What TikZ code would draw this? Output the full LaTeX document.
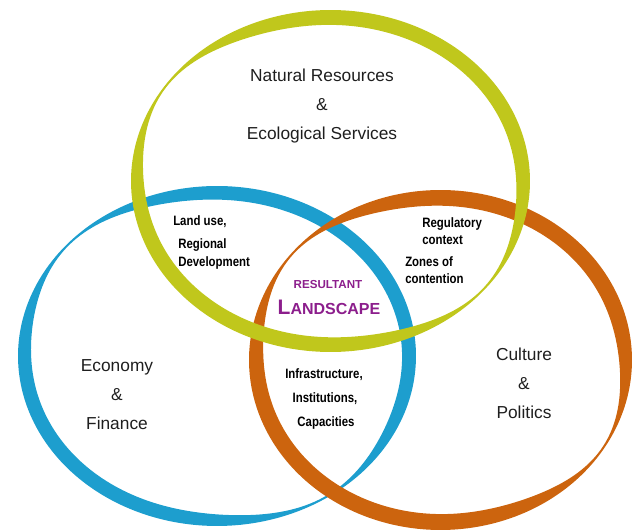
\documentclass[tikz,border=0pt]{standalone}
\usepackage{fontspec}
\setmainfont{Liberation Sans}
\newfontfamily\narrowfont[FakeStretch=0.84]{Liberation Sans}
\definecolor{ringblue}{RGB}{29,158,206}
\definecolor{ringorange}{RGB}{204,100,14}
\definecolor{ringyellow}{RGB}{192,199,28}
\definecolor{landpurple}{RGB}{140,30,140}
\definecolor{textgray}{RGB}{30,30,30}
\tikzset{declare function={dip(\q)=exp(-min(9,(\q/26)^2));}}
\tikzstyle{bigtext} = [font=\fontsize{13}{15}\selectfont, text=textgray, inner sep=0pt, text height=9.4pt, text depth=0pt]
\tikzstyle{smalltext} = [font=\narrowfont\bfseries\fontsize{10.2}{12}\selectfont, text=black, inner sep=0pt, text height=7.3pt, text depth=0pt]
\tikzstyle{purpletext} = [text=landpurple, inner sep=0pt, anchor=base]
% ring: centre x, centre y, radius x, radius y, thickness, thin end, thin angle a, thin angle b, colour
\newcommand{\drawring}[9]{%
  \fill[#9, even odd rule]
    plot[domain=#8-90:#8+270, samples=240] ({#1+#3*cos(\x)}, {#2+#4*sin(\x)}) -- cycle
    plot[domain=#8+270:#8-90, samples=240]
      ({#1+(#3-(#5-(#5-#6)*(dip(\x-#7)+dip(\x-#8))))*cos(\x)},
       {#2+(#4-(#5-(#5-#6)*(dip(\x-#7)+dip(\x-#8))))*sin(\x)}) -- cycle;}

\begin{document}
\begin{tikzpicture}[x=0.75pt, y=-0.75pt, node distance=22pt]
    \useasboundingbox (0,0) rectangle (633,530);

    % the three rings
    \drawring{217}{356}{199}{170}{14}{2}{222}{57}{ringblue}
    \drawring{440.5}{360}{191.5}{170}{16}{2}{219}{32}{ringorange}
    \drawring{330.5}{181}{199.5}{171}{15}{2}{214}{40}{ringyellow}

    % ring titles
    \node (nat_res) [bigtext] at (322,75) {Natural Resources};
    \node (nat_amp) [bigtext, below of=nat_res] {\&};
    \node (eco_serv) [bigtext, below of=nat_amp] {Ecological Services};

    \node (economy) [bigtext] at (117,365) {Economy};
    \node (eco_amp) [bigtext, below of=economy] {\&};
    \node (finance) [bigtext, below of=eco_amp] {Finance};

    \node (culture) [bigtext] at (524,354) {Culture};
    \node (cul_amp) [bigtext, below of=culture] {\&};
    \node (politics) [bigtext, below of=cul_amp] {Politics};

    % overlaps
    \node (land_use) [smalltext, anchor=west] at (173,221) {Land use,};
    \node (regional) [smalltext, anchor=west] at (178,243.5) {Regional};
    \node (development) [smalltext, anchor=west] at (178,261.5) {Development};

    \node (regulatory) [smalltext, anchor=west] at (422,223) {Regulatory};
    \node (context) [smalltext, anchor=west] at (422,240) {context};
    \node (zones) [smalltext, anchor=west] at (405,262) {Zones of};
    \node (contention) [smalltext, anchor=west] at (405,279) {contention};

    \node (infra) [smalltext] at (324,373.5) {Infrastructure,};
    \node (institutions) [smalltext] at (325,397.5) {Institutions,};
    \node (capacities) [smalltext] at (326,421.5) {Capacities};

    % centre
    \node (resultant) [purpletext, font=\bfseries\fontsize{8.7}{10}\selectfont] at (328,289) {RESULTANT};
    \node (landscape) [purpletext, font=\bfseries\fontsize{12}{14}\selectfont] at (329,315) {{\fontsize{15.75}{18}\selectfont L}ANDSCAPE};

\end{tikzpicture}
\end{document}
